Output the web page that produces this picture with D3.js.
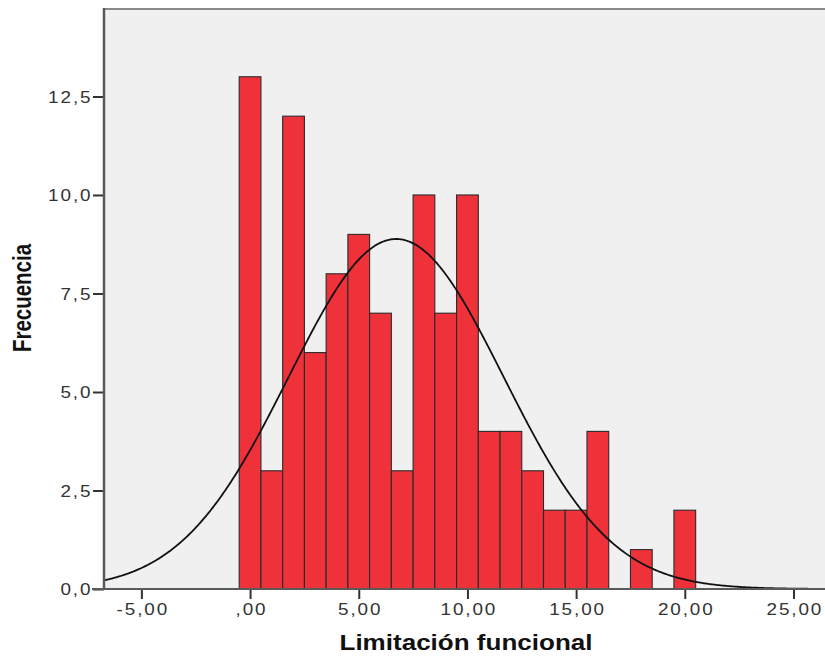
<!DOCTYPE html>
<html>
<head>
<meta charset="utf-8">
<script src="https://cdn.jsdelivr.net/npm/d3@7"></script>
<style>
  html, body { margin: 0; padding: 0; background: #ffffff; }
  svg { display: block; }
  text { font-family: "Liberation Sans", Arial, sans-serif; }
</style>
</head>
<body>
<svg id="chart" width="825" height="657"></svg>
<script>
// Histogram of "Limitación funcional": one bin per integer score
const binCenters = [0, 1, 2, 3, 4, 5, 6, 7, 8, 9, 10, 11, 12, 13, 14, 15, 16, 17, 18, 19, 20];
const frequencies = [13, 3, 12, 6, 8, 9, 7, 3, 10, 7, 10, 4, 4, 3, 2, 2, 4, 0, 1, 0, 2];
const binWidth = 1;

// Normal curve overlay parameters (N, mean, standard deviation)
const sampleSize = 110;
const curveMean = 6.72;
const curveSD = 4.94;

// Axis ticks and labels
const xTicks = [-5, 0, 5, 10, 15, 20, 25];
const xTickLabels = ["-5,00", ",00", "5,00", "10,00", "15,00", "20,00", "25,00"];
const yTicks = [0, 2.5, 5, 7.5, 10, 12.5];
const yTickLabels = ["0,0", "2,5", "5,0", "7,5", "10,0", "12,5"];

const xTitle = "Limitación funcional";
const yTitle = "Frecuencia";

const svg = d3.select("#chart");
const plot = { left: 104, top: 9, right: 830, bottom: 589 };

const x = d3.scaleLinear().domain([-6.72, 26.68]).range([plot.left, plot.right]);
const y = d3.scaleLinear().domain([0, 14.72]).range([plot.bottom, plot.top]);

svg.append("defs").append("clipPath").attr("id", "plotClip")
  .append("rect")
  .attr("x", plot.left).attr("y", plot.top)
  .attr("width", plot.right - plot.left).attr("height", plot.bottom - plot.top);

// Plot background
svg.append("rect")
  .attr("x", plot.left).attr("y", plot.top)
  .attr("width", plot.right - plot.left).attr("height", plot.bottom - plot.top)
  .attr("fill", "#f0f0f0");

// Top frame line
svg.append("line")
  .attr("x1", plot.left).attr("x2", plot.right)
  .attr("y1", plot.top).attr("y2", plot.top)
  .attr("stroke", "#8a8a8a").attr("stroke-width", 2);

const g = svg.append("g").attr("clip-path", "url(#plotClip)");

// Bars
g.selectAll("rect.bar")
  .data(binCenters.map((c, i) => ({ c, f: frequencies[i] })).filter(d => d.f > 0))
  .join("rect")
  .attr("class", "bar")
  .attr("x", d => x(d.c - binWidth / 2))
  .attr("y", d => y(d.f))
  .attr("width", d => x(d.c + binWidth / 2) - x(d.c - binWidth / 2))
  .attr("height", d => y(0) - y(d.f))
  .attr("fill", "#ef313a")
  .attr("stroke", "#2b2b2b")
  .attr("stroke-width", 1.1);

// Normal curve scaled to counts
const scaleFactor = sampleSize * binWidth / (curveSD * Math.sqrt(2 * Math.PI));
const curvePts = d3.range(-6.72, 26.7, 0.05).map(v => [v, scaleFactor * Math.exp(-0.5 * Math.pow((v - curveMean) / curveSD, 2))]);
g.append("path")
  .datum(curvePts)
  .attr("d", d3.line().x(d => x(d[0])).y(d => y(d[1])).curve(d3.curveBasis))
  .attr("fill", "none")
  .attr("stroke", "#111")
  .attr("stroke-width", 1.8);

// Tick label styling: slightly widened glyphs with open spacing
const tickFont = "16px";
const tickSpacing = 1.6;
const tickStretch = 1.18;

// Y axis
const yAxis = d3.axisLeft(y).tickValues(yTicks).tickSize(11).tickFormat((d, i) => yTickLabels[i]);
const yg = svg.append("g").attr("transform", `translate(${plot.left},0)`).call(yAxis);
yg.select(".domain").remove();
yg.selectAll(".tick line").attr("stroke", "#333").attr("stroke-width", 2);
yg.selectAll(".tick text")
  .attr("x", tickSpacing).attr("dy", "0.36em")
  .attr("fill", "#333").style("font-size", tickFont).style("letter-spacing", tickSpacing + "px")
  .attr("transform", `translate(-13.5,0) scale(${tickStretch},1)`);
svg.append("line")
  .attr("x1", plot.left).attr("x2", plot.left)
  .attr("y1", plot.top - 1).attr("y2", plot.bottom + 1)
  .attr("stroke", "#5a5a5a").attr("stroke-width", 2.5);

// X axis
const xAxis = d3.axisBottom(x).tickValues(xTicks).tickSize(10).tickFormat((d, i) => xTickLabels[i]);
const xg = svg.append("g").attr("transform", `translate(0,${plot.bottom})`).call(xAxis);
xg.select(".domain").remove();
xg.selectAll(".tick line").attr("stroke", "#333").attr("stroke-width", 2);
xg.selectAll(".tick text")
  .attr("x", tickSpacing / 2).attr("y", 26).attr("dy", 0)
  .attr("fill", "#333").style("font-size", tickFont).style("letter-spacing", tickSpacing + "px")
  .attr("transform", `scale(${tickStretch},1)`);
svg.append("line")
  .attr("x1", 92).attr("x2", plot.right)
  .attr("y1", plot.bottom).attr("y2", plot.bottom)
  .attr("stroke", "#5a5a5a").attr("stroke-width", 2);

// Axis titles
svg.append("text")
  .attr("x", 466).attr("y", 650)
  .attr("text-anchor", "middle")
  .attr("textLength", 253).attr("lengthAdjust", "spacingAndGlyphs")
  .style("font-size", "22px").style("font-weight", "bold")
  .attr("fill", "#111")
  .text(xTitle);

svg.append("text")
  .attr("transform", "translate(31,298) rotate(-90)")
  .attr("text-anchor", "middle")
  .attr("textLength", 108).attr("lengthAdjust", "spacingAndGlyphs")
  .style("font-size", "26px").style("font-weight", "bold")
  .attr("fill", "#111")
  .text(yTitle);
</script>
</body>
</html>
